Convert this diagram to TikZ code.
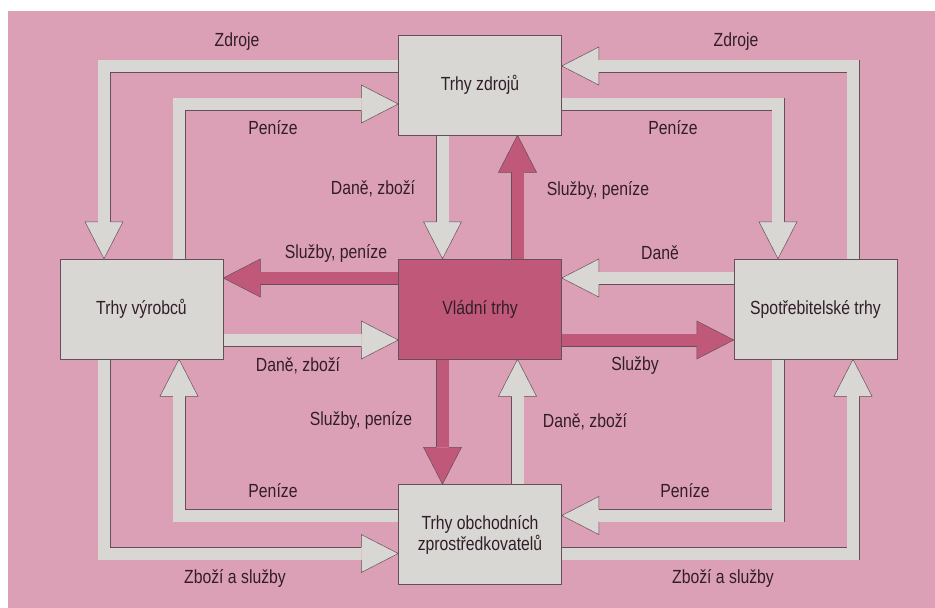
\documentclass[tikz,border=0pt]{standalone}
\usepackage{fontspec}
\setmainfont{Liberation Sans}[FakeStretch=0.83]
\usetikzlibrary{calc}
\definecolor{bgpink}{RGB}{220,160,182}
\definecolor{boxgrey}{RGB}{216,215,212}
\definecolor{govpink}{RGB}{192,88,122}
\definecolor{edge}{RGB}{100,80,90}
\definecolor{ink}{RGB}{50,30,40}
\tikzset{
  market/.style={draw=edge, line width=0.5pt, fill=boxgrey, minimum width=163pt, minimum height=100pt, inner sep=0pt, align=center, text=ink},
  shaft/.style={draw=edge, line width=0.5pt, double=#1, double distance=12pt},
  lbl/.style={text=ink, inner sep=0pt}
}
\newcommand\flowhead[3]{\filldraw[fill=#1, draw=edge, line width=0.5pt] ($(#2)!6.25pt!90:(#3)$) -- ($(#2)!19pt!90:(#3)$) -- (#3) -- ($(#2)!19pt!-90:(#3)$) -- ($(#2)!6.25pt!-90:(#3)$);}

\begin{document}
\begin{tikzpicture}[x=1pt, y=-1pt, font=\fontsize{19}{21}\selectfont]
	%%%%% background %%%%%
	\fill[white] (0,0) rectangle (935,608);
	\fill[bgpink] (8,11) rectangle (935,608);
	\useasboundingbox (0,0) rectangle (935,608);

	%%%%% markets (placed first, drawn again on top) %%%%%
	\path (480,85) node[market] (zdroj) {};
	\path (141.5,309) node[market] (vyrob) {};
	\path (480,309) node[market] (vlada) {};
	\path (815.5,309) node[market] (spotr) {};
	\path (480,534.5) node[market] (obch) {};

	%%%%% tips and head bases %%%%%
	\coordinate (t1) at ([xshift=-37.5pt]vyrob.north);  \coordinate (b1) at ([yshift=37pt]t1);
	\coordinate (t2) at ([yshift=-19pt]zdroj.west);     \coordinate (b2) at ([xshift=-37pt]t2);
	\coordinate (t3) at ([xshift=-37.5pt]vlada.north);  \coordinate (b3) at ([yshift=37pt]t3);
	\coordinate (t4) at ([yshift=31pt]vyrob.east);      \coordinate (b4) at ([xshift=37pt]t4);
	\coordinate (t5) at ([yshift=19pt]zdroj.east);      \coordinate (b5) at ([xshift=37pt]t5);
	\coordinate (t6) at ([xshift=-37.5pt]spotr.north);  \coordinate (b6) at ([yshift=37pt]t6);
	\coordinate (t7) at ([xshift=37.5pt]zdroj.south);   \coordinate (b7) at ([yshift=-37pt]t7);
	\coordinate (t8) at ([yshift=31pt]vlada.east);      \coordinate (b8) at ([xshift=37pt]t8);
	\coordinate (t9) at ([yshift=-31pt]vlada.west);     \coordinate (b9) at ([xshift=-37pt]t9);
	\coordinate (t10) at ([xshift=37.5pt]vyrob.south);  \coordinate (b10) at ([yshift=-37pt]t10);
	\coordinate (t11) at ([yshift=-19pt]obch.west);     \coordinate (b11) at ([xshift=-37pt]t11);
	\coordinate (t12) at ([xshift=-37.5pt]obch.north);  \coordinate (b12) at ([yshift=37pt]t12);
	\coordinate (t13) at ([yshift=-31pt]spotr.west);    \coordinate (b13) at ([xshift=-37pt]t13);
	\coordinate (t14) at ([xshift=37.5pt]vlada.south);  \coordinate (b14) at ([yshift=-37pt]t14);
	\coordinate (t15) at ([yshift=19pt]obch.east);      \coordinate (b15) at ([xshift=37pt]t15);
	\coordinate (t16) at ([xshift=37.5pt]spotr.south);  \coordinate (b16) at ([yshift=-37pt]t16);

	%%%%% flows %%%%%
	\draw[shaft=boxgrey] ([yshift=19pt]zdroj.center) -| (b1);   \flowhead{boxgrey}{b1}{t1}
	\draw[shaft=boxgrey] ([xshift=37.5pt]vyrob.center) |- (b2); \flowhead{boxgrey}{b2}{t2}
	\draw[shaft=boxgrey] ([xshift=-37.5pt]zdroj.center) -- (b3); \flowhead{boxgrey}{b3}{t3}
	\draw[shaft=govpink] ([yshift=31pt]vlada.center) -- (b4);   \flowhead{govpink}{b4}{t4}
	\draw[shaft=boxgrey] ([xshift=37.5pt]spotr.center) |- (b5); \flowhead{boxgrey}{b5}{t5}
	\draw[shaft=boxgrey] ([yshift=-19pt]zdroj.center) -| (b6);  \flowhead{boxgrey}{b6}{t6}
	\draw[shaft=govpink] ([xshift=37.5pt]vlada.center) -- (b7); \flowhead{govpink}{b7}{t7}
	\draw[shaft=boxgrey] ([yshift=31pt]spotr.center) -- (b8);   \flowhead{boxgrey}{b8}{t8}
	\draw[shaft=boxgrey] ([yshift=-31pt]vyrob.center) -- (b9);  \flowhead{boxgrey}{b9}{t9}
	\draw[shaft=boxgrey] ([yshift=19pt]obch.center) -| (b10);   \flowhead{boxgrey}{b10}{t10}
	\draw[shaft=boxgrey] ([xshift=-37.5pt]vyrob.center) |- (b11); \flowhead{boxgrey}{b11}{t11}
	\draw[shaft=govpink] ([xshift=-37.5pt]vlada.center) -- (b12); \flowhead{govpink}{b12}{t12}
	\draw[shaft=govpink] ([yshift=-31pt]vlada.center) -- (b13);  \flowhead{govpink}{b13}{t13}
	\draw[shaft=boxgrey] ([xshift=37.5pt]obch.center) -- (b14);  \flowhead{boxgrey}{b14}{t14}
	\draw[shaft=boxgrey] ([xshift=-37.5pt]spotr.center) |- (b15); \flowhead{boxgrey}{b15}{t15}
	\draw[shaft=boxgrey] ([yshift=-19pt]obch.center) -| (b16);  \flowhead{boxgrey}{b16}{t16}

	%%%%% markets on top %%%%%
	\node[market] at (zdroj) {Trhy zdrojů};
	\node[market] at (vyrob) {Trhy výrobců};
	\node[market, fill=govpink] at (vlada) {Vládní trhy};
	\node[market] at (spotr) {Spotřebitelské trhy};
	\node[market] at (obch) {Trhy obchodních\\zprostředkovatelů};

	%%%%% labels %%%%%
	\node[lbl] (zdrojeL) at (237,42) {Zdroje};
	\node[lbl] (zdrojeR) at (736,42) {Zdroje};
	\node[lbl] (penizeTL) at (273,128) {Peníze};
	\node[lbl] (penizeTR) at (673,128) {Peníze};
	\node[lbl] (daneZdroj) at (373,189) {Daně, zboží};
	\node[lbl] (sluzbyUp) at (598,190) {Služby, peníze};
	\node[lbl] (sluzbyL) at (336,253) {Služby, peníze};
	\node[lbl] (daneSpotr) at (660,253) {Daně};
	\node[lbl] (daneVyrob) at (298,366) {Daně, zboží};
	\node[lbl] (sluzbyR) at (635,366) {Služby};
	\node[lbl] (sluzbyDown) at (361,420) {Služby, peníze};
	\node[lbl] (daneObch) at (585,422) {Daně, zboží};
	\node[lbl] (penizeBL) at (273,491) {Peníze};
	\node[lbl] (penizeBR) at (685,491) {Peníze};
	\node[lbl] (zboziL) at (235,578) {Zboží a služby};
	\node[lbl] (zboziR) at (723,578) {Zboží a služby};
\end{tikzpicture}
\end{document}
